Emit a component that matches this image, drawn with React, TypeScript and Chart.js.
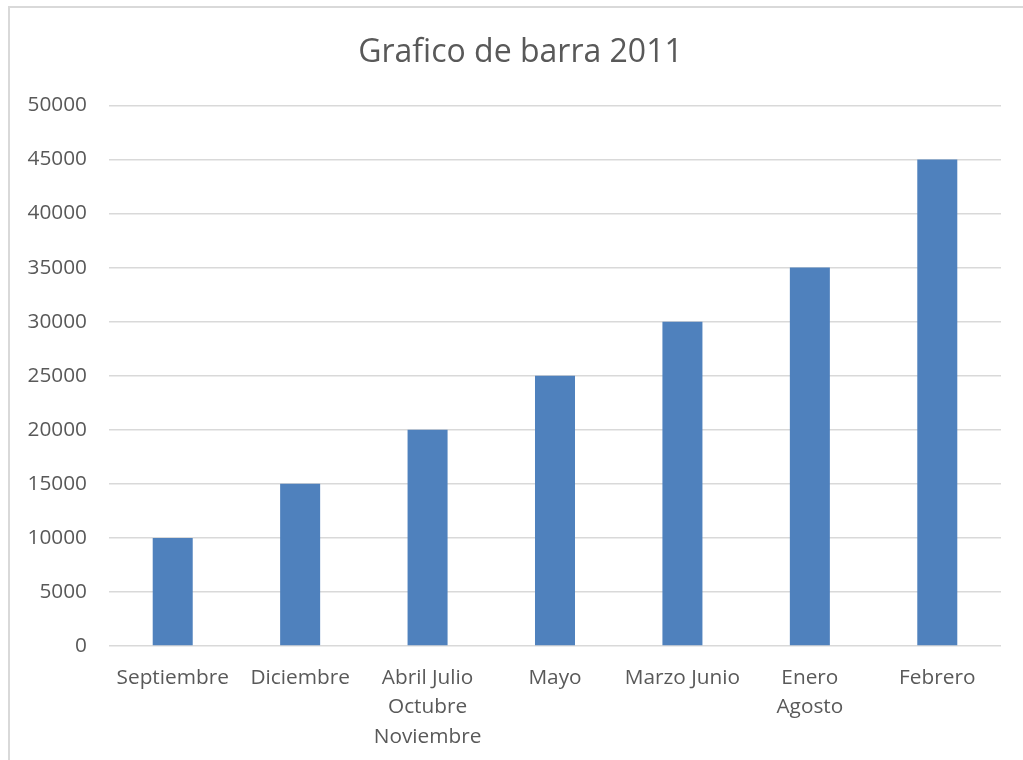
import React, { useEffect, useRef } from "react";
import { Chart, registerables } from "chart.js";

Chart.register(...registerables);

const categories: (string | string[])[] = [
  "Septiembre",
  "Diciembre",
  ["Abril Julio", "Octubre", "Noviembre"],
  "Mayo",
  "Marzo Junio",
  ["Enero", "Agosto"],
  "Febrero",
];
const values: number[] = [10000, 15000, 20000, 25000, 30000, 35000, 45000];
const titleText = "Grafico de barra 2011";
const yMin = 0;
const yMax = 50000;
const yStep = 5000;

const FONT = "'Open Sans', sans-serif";
const TEXT = "#595959";

export default function App() {
  const ref = useRef<HTMLCanvasElement | null>(null);
  useEffect(() => {
    document.body.style.overflow = "hidden";
    if (!ref.current) return;
    const chart = new Chart(ref.current, {
      type: "bar",
      data: {
        labels: categories,
        datasets: [
          {
            label: "Serie 1",
            data: values,
            backgroundColor: "#4F81BD",
            borderWidth: 0,
            categoryPercentage: 1,
            barPercentage: 0.314,
          },
        ],
      },
      options: {
        responsive: false,
        animation: false,
        layout: { padding: { left: 8, right: 0, top: 0, bottom: 0 } },
        plugins: {
          legend: { display: false },
          tooltip: { enabled: false },
          title: {
            display: true,
            text: titleText,
            color: TEXT,
            font: { family: FONT, size: 32, weight: "normal", lineHeight: 1.2 },
            padding: { top: 26, bottom: 33 },
          },
        },
        scales: {
          x: {
            grid: { display: false, drawTicks: false },
            border: { display: false },
            ticks: {
              color: TEXT,
              font: { family: FONT, size: 20.8, lineHeight: 1.42 },
              padding: 17,
              maxRotation: 0,
              autoSkip: false,
            },
            afterFit: (scale: any) => {
              scale.height = 114;
            },
          },
          y: {
            min: yMin,
            max: yMax,
            grid: { color: "#d9d9d9", lineWidth: 1.5, drawTicks: false },
            border: { display: false },
            ticks: {
              stepSize: yStep,
              color: TEXT,
              font: { family: FONT, size: 20.8 },
              padding: 22,
              callback: (v: any) => String(v),
            },
            afterFit: (scale: any) => {
              scale.width = 91;
            },
          },
          yRight: {
            position: "right",
            display: true,
            min: yMin,
            max: yMax,
            grid: { display: false, drawTicks: false },
            border: { display: false },
            ticks: { display: false },
            afterFit: (scale: any) => {
              scale.width = 22;
            },
          },
        },
      },
    });
    return () => chart.destroy();
  }, []);
  return (
    <div
      style={{
        position: "fixed",
        left: 8,
        top: 6,
        width: 1015,
        height: 754,
        borderLeft: "2px solid #d9d9d9",
        borderTop: "2px solid #d9d9d9",
        background: "#fff",
      }}
    >
      <canvas ref={ref} width={1013} height={752} style={{ display: "block" }} />
    </div>
  );
}
